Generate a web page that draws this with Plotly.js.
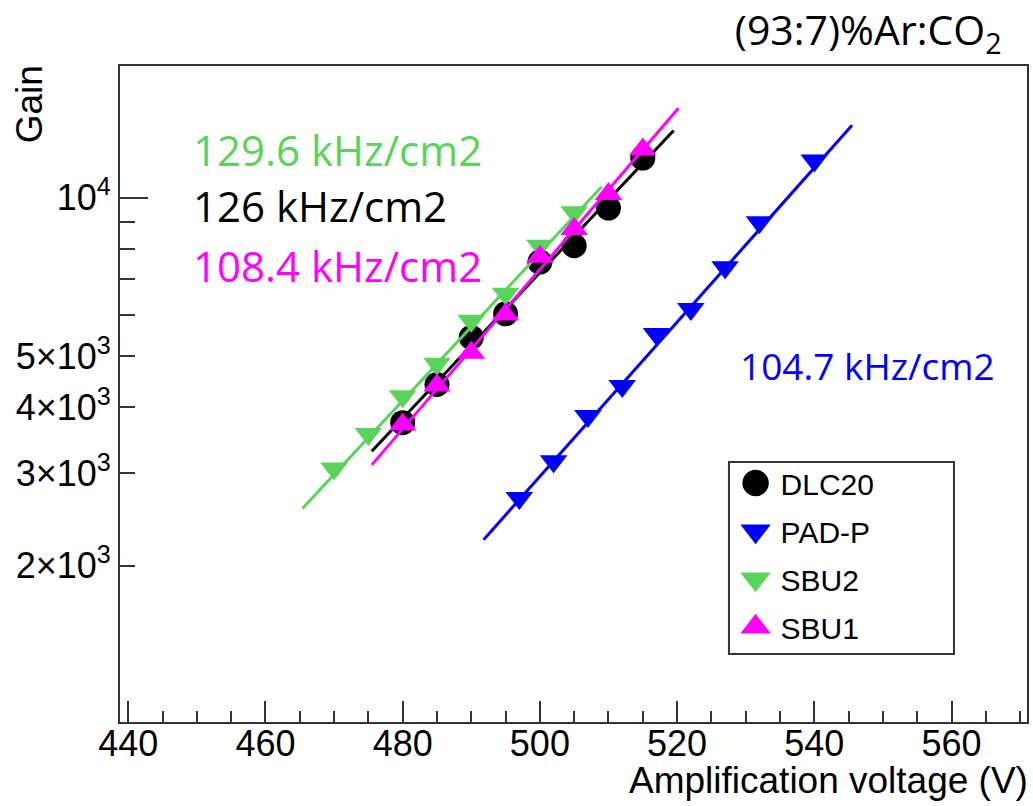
<!DOCTYPE html>
<html><head><meta charset="utf-8">
<script src="https://cdn.plot.ly/plotly-3.0.1.min.js"></script>
<style>html,body{margin:0;padding:0;background:#fff}#chart{width:1033px;height:806px}</style>
</head><body><div id="chart"></div>
<script>
// ---- data ----
const seriesNames = ['DLC20', 'PAD-P', 'SBU2', 'SBU1'];

const dlcV    = [480, 485, 490, 495, 500, 505, 510, 515];
const dlcGain = [3740, 4420, 5430, 6020, 7550, 8110, 9560, 11900];

const padV    = [497, 502, 507, 512, 517, 522, 527, 532, 540];
const padGain = [2690, 3160, 3850, 4390, 5510, 6150, 7380, 8990, 11780];

const sbu2V    = [470, 475, 480, 485, 490, 495, 500, 505];
const sbu2Gain = [3060, 3560, 4200, 4840, 5840, 6570, 8110, 9390];

const sbu1V    = [480, 485, 490, 495, 500, 505, 510, 515];
const sbu1Gain = [3710, 4400, 5080, 6000, 7730, 8730, 10170, 12350];

// fit-line end points (exponential fits, straight on log scale)
const dlcFitV = [475.5, 519.5],  dlcFitGain = [3300, 13430];
const padFitV = [491.8, 545.5],  padFitGain = [2242, 13730];
const sbu2FitV = [465.4, 509.0], sbu2FitGain = [2570, 10500];
const sbu1FitV = [475.5, 520.2], sbu1FitGain = [3110, 14790];

const rateLabels = ['129.6 kHz/cm2', '126 kHz/cm2', '108.4 kHz/cm2', '104.7 kHz/cm2'];
const titleText = '(93:7)%Ar:CO<sub>2</sub>';

const yTickVals = [2000, 3000, 4000, 5000, 10000];
const yTickText = ['2×10<sup>3</sup>', '3×10<sup>3</sup>', '4×10<sup>3</sup>', '5×10<sup>3</sup>', '10<sup>4</sup>'];
const yMinorVals = [6000, 7000, 8000, 9000];

// ---- styles ----
const cBlack = '#000000', cBlue = '#0000ff', cGreen = '#5ad35a', cMag = '#ff00ff';
const axFont = {family: 'Liberation Sans, Arial, sans-serif', size: 36, color: '#000'};
const noteFont = 'Open Sans, Noto Sans, sans-serif';
const axColor = '#333';

function pts(x, y, name, color, symbol, size) {
  return {x: x, y: y, name: name, legendgroup: name, type: 'scatter', mode: 'markers',
    marker: {color: color, symbol: symbol, size: size, line: {width: 0}},
    hoverinfo: 'skip', cliponaxis: false};
}
function fit(x, y, color, yaxis) {
  return {x: x, y: y, type: 'scatter', mode: 'lines', showlegend: false,
    line: {color: color, width: 3}, hoverinfo: 'skip', yaxis: yaxis || 'y'};
}

const traces = [
  pts(dlcV, dlcGain, seriesNames[0], cBlack, 'circle', 25),
  fit(dlcFitV, dlcFitGain, cBlack),
  pts(padV, padGain, seriesNames[1], cBlue, 'triangle-down', 24),
  fit(padFitV, padFitGain, cBlue),
  pts(sbu2V, sbu2Gain, seriesNames[2], cGreen, 'triangle-down', 24),
  fit(sbu2FitV, sbu2FitGain, cGreen),
  pts(sbu1V, sbu1Gain, seriesNames[3], cMag, 'triangle-up', 24),
  fit(sbu1FitV, sbu1FitGain, cMag, 'y2')
];

const yRange = [Math.log10(1010), Math.log10(17800)];

const layout = {
  width: 1033, height: 806,
  margin: {l: 120, r: 6, t: 66, b: 84, pad: 0},
  paper_bgcolor: '#fff', plot_bgcolor: '#fff',
  title: {text: titleText, x: 0.972, xref: 'paper', xanchor: 'right',
          y: 0.962, yref: 'container', yanchor: 'middle',
          font: {family: noteFont, size: 41, color: '#000'}},
  xaxis: {
    range: [438.8, 571.0], showgrid: false, zeroline: false,
    showline: true, linecolor: axColor, linewidth: 2, mirror: true,
    ticks: 'inside', ticklen: 21, tickwidth: 2, tickcolor: axColor,
    tickmode: 'linear', tick0: 440, dtick: 20, ticklabelstandoff: -11,
    minor: {ticks: 'inside', ticklen: 11, tickwidth: 2, tickcolor: axColor, tick0: 440, dtick: 5, showgrid: false},
    tickfont: axFont
  },
  yaxis: {
    type: 'log', range: yRange, showgrid: false, zeroline: false,
    showline: true, linecolor: axColor, linewidth: 2, mirror: true,
    ticks: 'inside', ticklen: 15, tickwidth: 2, tickcolor: axColor,
    tickmode: 'array', tickvals: yTickVals, ticktext: yTickText,
    minor: {ticks: 'inside', ticklen: 15, tickwidth: 2, tickcolor: axColor, tickmode: 'array', tickvals: yMinorVals, showgrid: false},
    tickfont: axFont
  },
  yaxis2: {
    type: 'log', range: yRange, overlaying: 'y', side: 'left', anchor: 'x',
    showgrid: false, zeroline: false, showline: false,
    ticks: 'inside', ticklen: 28, tickwidth: 2, tickcolor: axColor,
    tickmode: 'array', tickvals: [10000], showticklabels: false
  },
  showlegend: true,
  legend: {
    x: 0.671, y: 0.407, xanchor: 'left', yanchor: 'top',
    bgcolor: 'rgba(0,0,0,0)', bordercolor: 'rgba(0,0,0,0)', borderwidth: 2,
    font: {family: 'Liberation Sans, Arial, sans-serif', size: 30, color: '#000'},
    itemwidth: 40, tracegroupgap: 6
  },
  shapes: [
    {type: 'rect', xref: 'paper', yref: 'paper', x0: 0.6714, x1: 0.9195, y0: 0.1037, y1: 0.3963,
     line: {color: axColor, width: 2}, fillcolor: 'rgba(0,0,0,0)', layer: 'above'}
  ],
  annotations: [
    {text: rateLabels[0], xref: 'paper', yref: 'paper', x: 0.078, y: 0.872, xanchor: 'left', yanchor: 'middle', showarrow: false, font: {family: noteFont, size: 42, color: cGreen}},
    {text: rateLabels[1], xref: 'paper', yref: 'paper', x: 0.078, y: 0.7866, xanchor: 'left', yanchor: 'middle', showarrow: false, font: {family: noteFont, size: 42, color: cBlack}},
    {text: rateLabels[2], xref: 'paper', yref: 'paper', x: 0.078, y: 0.6966, xanchor: 'left', yanchor: 'middle', showarrow: false, font: {family: noteFont, size: 42, color: cMag}},
    {text: rateLabels[3], xref: 'paper', yref: 'paper', x: 0.681, y: 0.5442, xanchor: 'left', yanchor: 'middle', showarrow: false, font: {family: noteFont, size: 37, color: cBlue}},
    {text: 'Amplification voltage (V)', xref: 'paper', yref: 'paper', x: 1.003, y: -0.089, xanchor: 'right', yanchor: 'middle', showarrow: false, font: {family: 'Liberation Sans, Arial, sans-serif', size: 37, color: '#000'}},
    {text: 'Gain', xref: 'paper', yref: 'paper', x: -0.1, y: 0.942, xanchor: 'center', yanchor: 'middle', textangle: -90, showarrow: false, font: {family: 'Liberation Sans, Arial, sans-serif', size: 37, color: '#000'}}
  ]
};

Plotly.newPlot('chart', traces, layout, {staticPlot: true}).then(function () {
  document.querySelectorAll('.legend .legendpoints path.scatterpts').forEach(function (p) {
    const t = p.getAttribute('transform') || '';
    p.setAttribute('transform', t + ' scale(1.65)');
  });
});
</script></body></html>
